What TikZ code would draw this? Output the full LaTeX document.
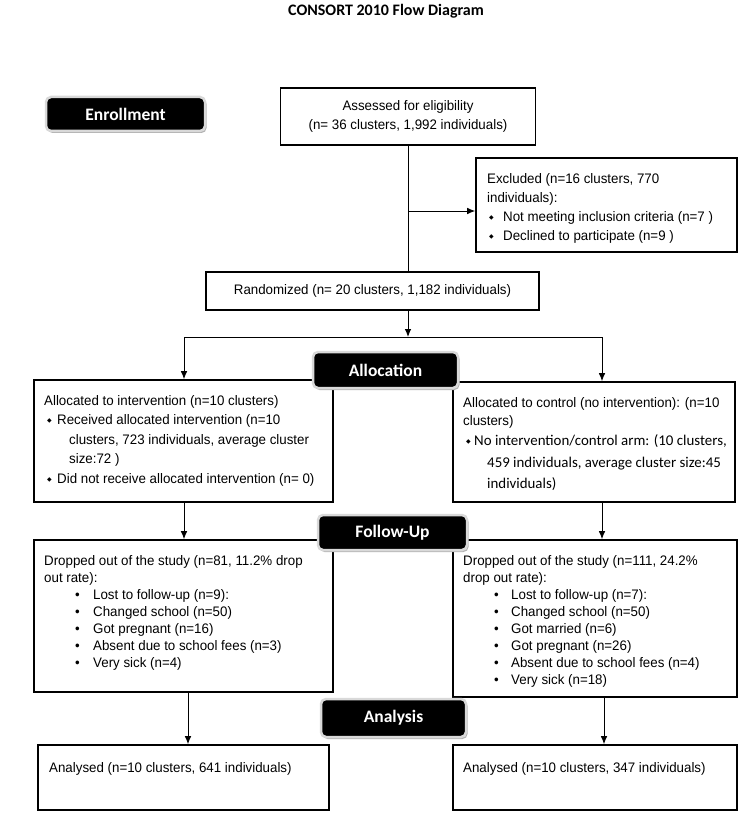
\documentclass[tikz,border=0pt]{standalone}
\usepackage{fontspec}
\setmainfont{Liberation Sans}[FakeStretch=0.965]
\newfontfamily\calib{Carlito}
\newfontfamily\djv{DejaVu Sans}
\usetikzlibrary{arrows.meta,shadows,calc}
\newcommand\dbul[1]{\makebox[#1][l]{\djv\fontsize{6}{6}\selectfont\raisebox{1.8pt}{◆}}}
\newcommand\rbul[1]{\makebox[#1][l]{•}}
\begin{document}
\begin{tikzpicture}[x=1pt,y=-1pt,
  box/.style={draw=black,line width=1.6pt,rectangle,inner sep=0pt},
  txt/.style={inner sep=0pt,align=left,anchor=north west},
  arr/.style={line width=0.9pt,-{Latex[length=8pt,width=6.5pt]}},
  ln/.style={line width=0.9pt},
  phase/.style={fill=black,text=white,rounded corners=5pt,draw=black!15,line width=2.5pt,
    font=\calib\bfseries\fontsize{17.5}{20}\selectfont,
    drop shadow={shadow xshift=1.5pt,shadow yshift=-2pt,fill=black!30,opacity=1}},
  every node/.append style={font=\fontsize{13.8}{19.5}\selectfont}]
\useasboundingbox (0,0) rectangle (742,813);

\node[font=\calib\bfseries\fontsize{16}{19}\selectfont] (title) at (386,11) {CONSORT 2010 Flow Diagram};

% boxes
\node[box,minimum width=255pt,minimum height=57pt,align=center,font=\fontsize{13.8}{19}\selectfont] (assess) at (408,116.5)
  {Assessed for eligibility\\(n= 36 clusters, 1,992 individuals)};
\node[box,minimum width=261pt,minimum height=94pt] (excl) at (606.5,205) {};
\node[box,minimum width=333pt,minimum height=38pt] (rand) at (372.5,291)
  {Randomized (n= 20 clusters, 1,182 individuals)};
\node[box,minimum width=299pt,minimum height=122pt] (allocL) at (183.5,441) {};
\node[box,minimum width=282pt,minimum height=120pt] (allocR) at (594,442) {};
\node[box,minimum width=299pt,minimum height=152pt] (dropL) at (183.5,616) {};
\node[box,minimum width=284pt,minimum height=157pt] (dropR) at (595,618.5) {};
\node[box,minimum width=291pt,minimum height=65pt] (anaL) at (183.5,777.5) {};
\node[box,minimum width=284pt,minimum height=65pt] (anaR) at (595,777.5) {};

% box texts
\node[txt,font=\fontsize{13.8}{18.7}\selectfont] (exclT) at (487,170.7)
  {\strut Excluded (n=16 clusters, 770\\
   individuals):\\
   \hspace*{2pt}\dbul{14pt}Not meeting inclusion criteria (n=7 )\\
   \hspace*{2pt}\dbul{14pt}Declined to participate (n=9 )};

\node[txt,font=\fontsize{13.8}{19.5}\selectfont] (allocLT) at (44,391.2)
  {\strut Allocated to intervention (n=10 clusters)\\
   \hspace*{3pt}\dbul{10pt}Received allocated intervention (n=10\\
   \hspace*{25pt}clusters, 723 individuals, average cluster\\
   \hspace*{25pt}size:72 )\\
   \hspace*{3pt}\dbul{10pt}Did not receive allocated intervention (n= 0)};

\node[txt,font=\fontsize{13.8}{18}\selectfont] (allocRT) at (463,394.2)
  {\strut Allocated to control (no intervention): (n=10\\
   clusters)\\[2pt]
   \hspace*{3pt}\dbul{8pt}{\calib\fontsize{14.9}{18}\selectfont No intervention/control arm: (10 clusters,}\\[4pt]
   \hspace*{24pt}{\calib\fontsize{14.9}{18}\selectfont 459 individuals, average cluster size:45}\\[3pt]
   \hspace*{24pt}{\calib\fontsize{14.9}{18}\selectfont individuals)}};

\node[txt,font=\fontsize{13.8}{17}\selectfont] (dropLT) at (44,552.9)
  {\strut Dropped out of the study (n=81, 11.2\% drop\\
   out rate):\\
   \hspace*{31pt}\rbul{18pt}Lost to follow-up (n=9):\\
   \hspace*{31pt}\rbul{18pt}Changed school (n=50)\\
   \hspace*{31pt}\rbul{18pt}Got pregnant (n=16)\\
   \hspace*{31pt}\rbul{18pt}Absent due to school fees (n=3)\\
   \hspace*{31pt}\rbul{18pt}Very sick (n=4)};

\node[txt,font=\fontsize{13.8}{17}\selectfont] (dropRT) at (463,552.9)
  {\strut Dropped out of the study (n=111, 24.2\%\\
   drop out rate):\\
   \hspace*{31pt}\rbul{17pt}Lost to follow-up (n=7):\\
   \hspace*{31pt}\rbul{17pt}Changed school (n=50)\\
   \hspace*{31pt}\rbul{17pt}Got married (n=6)\\
   \hspace*{31pt}\rbul{17pt}Got pregnant (n=26)\\
   \hspace*{31pt}\rbul{17pt}Absent due to school fees (n=4)\\
   \hspace*{31pt}\rbul{17pt}Very sick (n=18)};

\node[inner sep=0pt,anchor=base west] (anaLT) at (49,772.8) {Analysed (n=10 clusters, 641 individuals)};
\node[inner sep=0pt,anchor=base west] (anaRT) at (463,772.8) {Analysed (n=10 clusters, 347 individuals)};

% connectors
\coordinate (jx) at (408,211);
\coordinate (sp) at (408,337);
\coordinate (sl) at (184,337);
\coordinate (sr) at (602,337);
\coordinate (bl) at (188,700);
\coordinate (br) at (604,700);
\draw[ln] (assess.south) -- (assess.south |- rand.north);
\draw[arr] (jx) -- (excl.west |- jx);
\draw[arr] (rand.south -| sp) -- (sp);
\draw[ln,line cap=rect] (sl) -- (sr);
\draw[arr] (sl) -- (sl |- allocL.north);
\draw[arr] (sr) -- (sr |- allocR.north);
\draw[arr] (allocL.south -| sl) -- (sl |- dropL.north);
\draw[arr] (allocR.south -| sr) -- (sr |- dropR.north);
\draw[arr] (dropL.south -| bl) -- (bl |- anaL.north);
\draw[arr] (dropR.south -| br) -- (br |- anaR.north);

% phase labels
\node[phase,minimum width=159pt,minimum height=34pt] (enr) at (125.5,114) {Enrollment};
\node[phase,minimum width=145pt,minimum height=36pt] (allocLab) at (385.5,370) {Allocation};
\node[phase,minimum width=149pt,minimum height=35pt] (fuLab) at (392.5,532.5) {Follow-Up};
\node[phase,minimum width=145pt,minimum height=38pt] (anaLab) at (393.5,718) {Analysis};
\end{tikzpicture}
\end{document}
